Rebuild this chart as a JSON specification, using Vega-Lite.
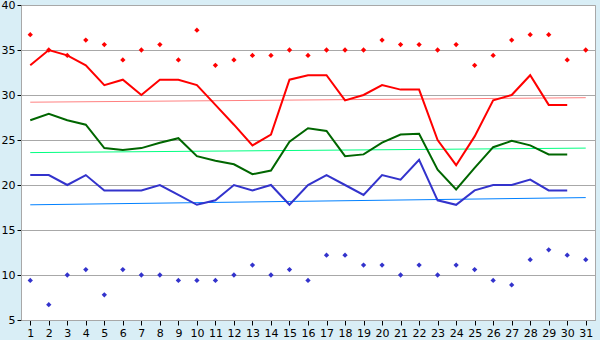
{
  "$schema": "https://vega.github.io/schema/vega-lite/v6.json",
  "width": 574,
  "height": 315,
  "autosize": {"type": "none"},
  "padding": {"left": 21, "top": 5, "right": 5, "bottom": 20},
  "background": "#d9eef6",
  "config": {
    "view": {"fill": "white", "stroke": "#a8a8a8", "strokeWidth": 1},
    "axis": {
      "domainColor": "#a8a8a8",
      "tickColor": "#000000",
      "labelColor": "#000000",
      "labelFont": "DejaVu Sans",
      "labelFontSize": 11,
      "gridColor": "#a8a8a8",
      "gridOpacity": 1,
      "title": null
    }
  },
  "datasets": {
    "days": [
      {"day": 1, "hi": 33.3, "mean": 27.2, "lo": 21.1, "rh": 36.7, "rl": 9.4},
      {"day": 2, "hi": 35.0, "mean": 27.9, "lo": 21.1, "rh": 35.0, "rl": 6.7},
      {"day": 3, "hi": 34.4, "mean": 27.2, "lo": 20.0, "rh": 34.4, "rl": 10.0},
      {"day": 4, "hi": 33.3, "mean": 26.7, "lo": 21.1, "rh": 36.1, "rl": 10.6},
      {"day": 5, "hi": 31.1, "mean": 24.1, "lo": 19.4, "rh": 35.6, "rl": 7.8},
      {"day": 6, "hi": 31.7, "mean": 23.9, "lo": 19.4, "rh": 33.9, "rl": 10.6},
      {"day": 7, "hi": 30.0, "mean": 24.1, "lo": 19.4, "rh": 35.0, "rl": 10.0},
      {"day": 8, "hi": 31.7, "mean": 24.7, "lo": 20.0, "rh": 35.6, "rl": 10.0},
      {"day": 9, "hi": 31.7, "mean": 25.2, "lo": 18.9, "rh": 33.9, "rl": 9.4},
      {"day": 10, "hi": 31.1, "mean": 23.2, "lo": 17.8, "rh": 37.2, "rl": 9.4},
      {"day": 11, "hi": 28.9, "mean": 22.7, "lo": 18.3, "rh": 33.3, "rl": 9.4},
      {"day": 12, "hi": 26.7, "mean": 22.3, "lo": 20.0, "rh": 33.9, "rl": 10.0},
      {"day": 13, "hi": 24.4, "mean": 21.2, "lo": 19.4, "rh": 34.4, "rl": 11.1},
      {"day": 14, "hi": 25.6, "mean": 21.6, "lo": 20.0, "rh": 34.4, "rl": 10.0},
      {"day": 15, "hi": 31.7, "mean": 24.8, "lo": 17.8, "rh": 35.0, "rl": 10.6},
      {"day": 16, "hi": 32.2, "mean": 26.3, "lo": 20.0, "rh": 34.4, "rl": 9.4},
      {"day": 17, "hi": 32.2, "mean": 26.0, "lo": 21.1, "rh": 35.0, "rl": 12.2},
      {"day": 18, "hi": 29.4, "mean": 23.2, "lo": 20.0, "rh": 35.0, "rl": 12.2},
      {"day": 19, "hi": 30.0, "mean": 23.4, "lo": 18.9, "rh": 35.0, "rl": 11.1},
      {"day": 20, "hi": 31.1, "mean": 24.7, "lo": 21.1, "rh": 36.1, "rl": 11.1},
      {"day": 21, "hi": 30.6, "mean": 25.6, "lo": 20.6, "rh": 35.6, "rl": 10.0},
      {"day": 22, "hi": 30.6, "mean": 25.7, "lo": 22.8, "rh": 35.6, "rl": 11.1},
      {"day": 23, "hi": 25.0, "mean": 21.7, "lo": 18.3, "rh": 35.0, "rl": 10.0},
      {"day": 24, "hi": 22.2, "mean": 19.5, "lo": 17.8, "rh": 35.6, "rl": 11.1},
      {"day": 25, "hi": 25.4, "mean": 21.9, "lo": 19.4, "rh": 33.3, "rl": 10.6},
      {"day": 26, "hi": 29.4, "mean": 24.2, "lo": 20.0, "rh": 34.4, "rl": 9.4},
      {"day": 27, "hi": 30.0, "mean": 24.9, "lo": 20.0, "rh": 36.1, "rl": 8.9},
      {"day": 28, "hi": 32.2, "mean": 24.4, "lo": 20.6, "rh": 36.7, "rl": 11.7},
      {"day": 29, "hi": 28.9, "mean": 23.4, "lo": 19.4, "rh": 36.7, "rl": 12.8},
      {"day": 30, "hi": 28.9, "mean": 23.4, "lo": 19.4, "rh": 33.9, "rl": 12.2},
      {"day": 31, "hi": null, "mean": null, "lo": null, "rh": 35.0, "rl": 11.7}
    ],
    "trend": [
      {"day": 1, "hiT": 29.2, "meanT": 23.6, "loT": 17.8},
      {"day": 31, "hiT": 29.7, "meanT": 24.1, "loT": 18.6}
    ]
  },
  "encoding": {
    "x": {
      "field": "day",
      "type": "quantitative",
      "scale": {"domain": [0.5, 31.5], "nice": false, "zero": false},
      "axis": {
        "values": [1,2,3,4,5,6,7,8,9,10,11,12,13,14,15,16,17,18,19,20,21,22,23,24,25,26,27,28,29,30,31],
        "grid": false,
        "tickSize": 5,
        "labelPadding": 2,
        "labelFlush": false,
        "labelOverlap": false
      }
    }
  },
  "layer": [
    {
      "data": {"name": "trend"},
      "mark": {"type": "line", "color": "#ff8080", "strokeWidth": 1},
      "encoding": {
        "y": {
          "field": "hiT",
          "type": "quantitative",
          "scale": {"domain": [5, 40], "nice": false, "zero": false},
          "axis": {"values": [5,10,15,20,25,30,35,40], "grid": true, "tickSize": 4, "labelPadding": 2}
        }
      }
    },
    {
      "data": {"name": "trend"},
      "mark": {"type": "line", "color": "#00ff80", "strokeWidth": 1},
      "encoding": {"y": {"field": "meanT", "type": "quantitative"}}
    },
    {
      "data": {"name": "trend"},
      "mark": {"type": "line", "color": "#0080ff", "strokeWidth": 1},
      "encoding": {"y": {"field": "loT", "type": "quantitative"}}
    },
    {
      "data": {"name": "days"},
      "mark": {"type": "line", "color": "#ff0000", "strokeWidth": 2},
      "encoding": {"y": {"field": "hi", "type": "quantitative"}}
    },
    {
      "data": {"name": "days"},
      "mark": {"type": "line", "color": "#006600", "strokeWidth": 2},
      "encoding": {"y": {"field": "mean", "type": "quantitative"}}
    },
    {
      "data": {"name": "days"},
      "mark": {"type": "line", "color": "#3333cc", "strokeWidth": 2},
      "encoding": {"y": {"field": "lo", "type": "quantitative"}}
    },
    {
      "data": {"name": "days"},
      "mark": {"type": "point", "shape": "diamond", "filled": true, "color": "#ff0000", "size": 28, "opacity": 1},
      "encoding": {"y": {"field": "rh", "type": "quantitative"}}
    },
    {
      "data": {"name": "days"},
      "mark": {"type": "point", "shape": "diamond", "filled": true, "color": "#3333cc", "size": 28, "opacity": 1},
      "encoding": {"y": {"field": "rl", "type": "quantitative"}}
    }
  ]
}
